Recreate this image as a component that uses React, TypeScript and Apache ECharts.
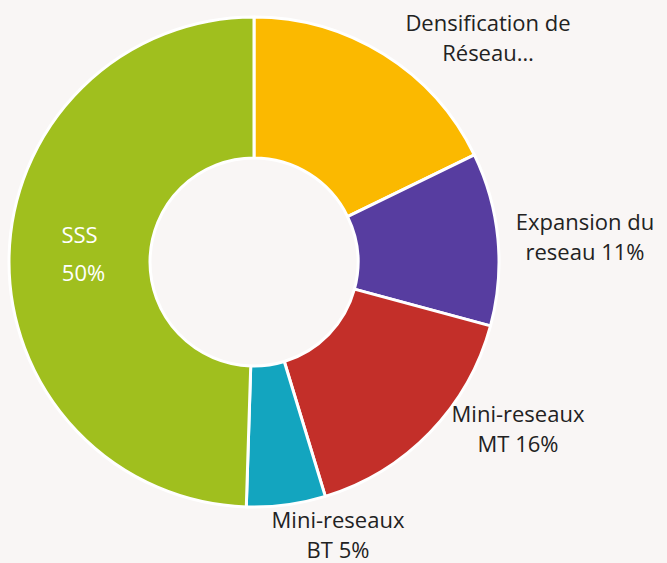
import React, { useEffect, useRef } from "react";
import * as echarts from "echarts";

const categories = ["Densification de\nRéseau…", "Expansion du\nreseau 11%", "Mini-reseaux\nMT 16%", "Mini-reseaux\nBT 5%", "SSS"];
const values = [17.8, 11.4, 16.1, 5.2, 49.5];
const colors = ["#fbb900", "#573da0", "#c32f29", "#13a5bf", "#a0bf1e"];
const labelPos: ([number, number] | null)[] = [[488, 37], [585, 236], [518, 428], [338, 534], null];

export default function App() {
  const ref = useRef<HTMLDivElement>(null);
  useEffect(() => {
    document.body.style.margin = "0";
    const chart = echarts.init(ref.current!, undefined, { renderer: "svg" });
    const font = "'Open Sans', 'Noto Sans', sans-serif";
    chart.setOption({
      animation: false,
      backgroundColor: "#f9f6f5",
      series: [
        {
          type: "pie",
          center: [254, 262],
          radius: [104, 245],
          startAngle: 90,
          clockwise: true,
          avoidLabelOverlap: false,
          itemStyle: { borderColor: "#ffffff", borderWidth: 3 },
          label: {
            show: true,
            position: "outside",
            formatter: (p: any) => p.name,
            color: "#222222",
            fontFamily: font,
            fontSize: 22,
            lineHeight: 30,
            align: "center",
          },
          labelLine: { show: false },
          labelLayout: (p: any) => {
            const pos = labelPos[p.dataIndex];
            if (!pos) return { dx: 3, dy: -6 };
            return { x: pos[0], y: pos[1], align: "center", verticalAlign: "middle" };
          },
          data: categories.map((c, i) => ({
            name: c,
            value: values[i],
            itemStyle: { color: colors[i] },
            ...(i === 4
              ? {
                  label: {
                    position: "inside",
                    formatter: "{a|SSS}\n{b|50%}",
                    align: "left",
                    rich: {
                      a: { color: "#ffffff", fontFamily: font, fontSize: 22, lineHeight: 38 },
                      b: { color: "#ffffff", fontFamily: font, fontSize: 22, lineHeight: 38, padding: [0, 0, 0, 8] },
                    },
                  },
                }
              : {}),
          })),
        },
      ],
    });
    return () => chart.dispose();
  }, []);
  return <div ref={ref} style={{ width: 667, height: 563 }} />;
}
